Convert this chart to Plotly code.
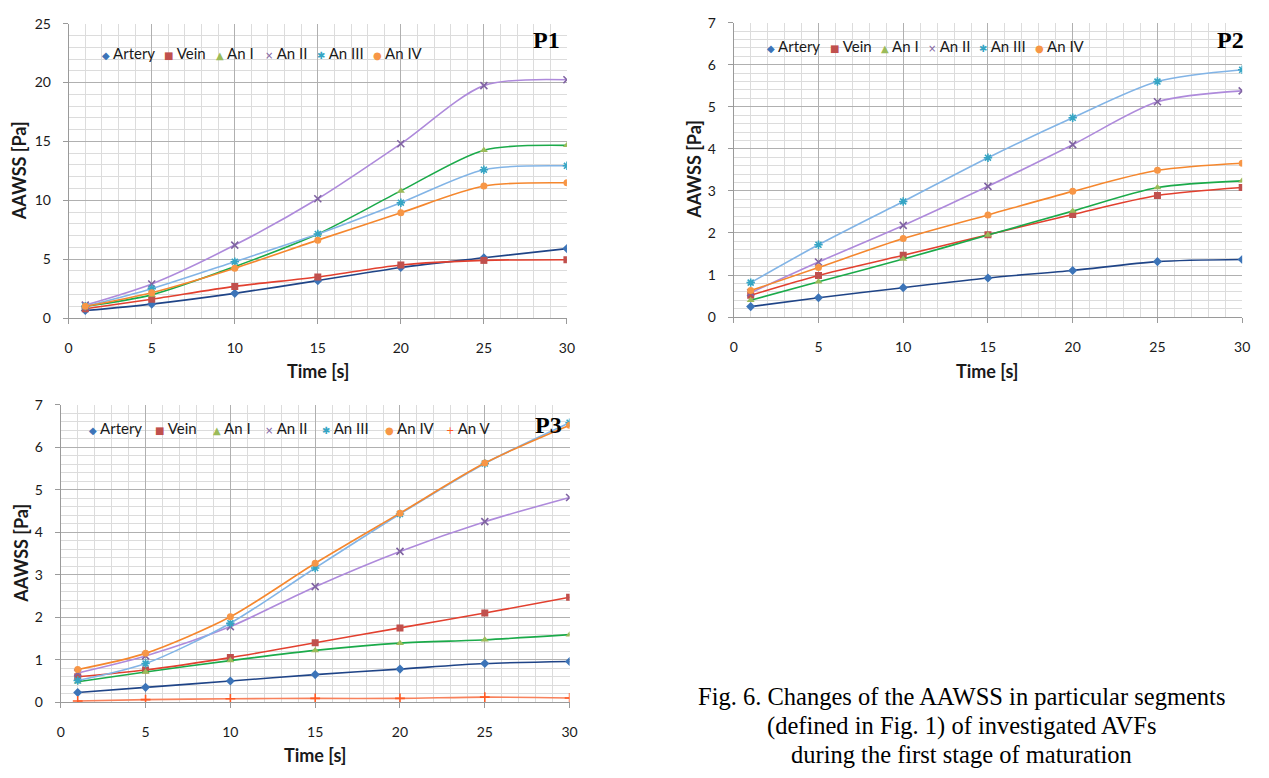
import plotly.graph_objects as go

# ---------------- data ----------------
time_s = [1, 5, 10, 15, 20, 25, 30]

series_p12 = ["Artery", "Vein", "An I", "An II", "An III", "An IV"]
series_p3 = ["Artery", "Vein", "An I", "An II", "An III", "An IV", "An V"]

# P1  (AAWSS [Pa])
p1_artery = [0.64, 1.19, 2.10, 3.18, 4.30, 5.12, 5.90]
p1_vein = [0.80, 1.60, 2.69, 3.49, 4.51, 4.90, 4.96]
p1_an1 = [1.00, 1.97, 4.37, 7.14, 10.80, 14.26, 14.67]
p1_an2 = [1.10, 2.90, 6.20, 10.13, 14.80, 19.74, 20.24]
p1_an3 = [1.00, 2.50, 4.79, 7.14, 9.80, 12.60, 12.93]
p1_an4 = [1.00, 2.16, 4.24, 6.62, 8.94, 11.21, 11.49]

# P2
p2_artery = [0.25, 0.46, 0.70, 0.93, 1.11, 1.32, 1.37]
p2_vein = [0.52, 0.99, 1.47, 1.96, 2.44, 2.89, 3.08]
p2_an1 = [0.40, 0.84, 1.38, 1.95, 2.52, 3.08, 3.24]
p2_an2 = [0.58, 1.31, 2.18, 3.11, 4.10, 5.12, 5.38]
p2_an3 = [0.82, 1.72, 2.75, 3.79, 4.74, 5.60, 5.88]
p2_an4 = [0.63, 1.18, 1.87, 2.43, 2.99, 3.49, 3.66]

# P3
p3_artery = [0.23, 0.35, 0.50, 0.65, 0.78, 0.91, 0.96]
p3_vein = [0.60, 0.76, 1.05, 1.40, 1.75, 2.10, 2.47]
p3_an1 = [0.48, 0.71, 0.98, 1.22, 1.39, 1.47, 1.59]
p3_an2 = [0.69, 1.09, 1.78, 2.72, 3.55, 4.25, 4.82]
p3_an3 = [0.51, 0.91, 1.86, 3.16, 4.43, 5.62, 6.58]
p3_an4 = [0.77, 1.15, 2.01, 3.27, 4.45, 5.63, 6.52]
p3_an5 = [0.03, 0.06, 0.08, 0.09, 0.09, 0.12, 0.10]

x_ticks = [0, 5, 10, 15, 20, 25, 30]
caption_lines = ["Fig. 6. Changes of the AAWSS in particular segments",
                 "(defined in Fig. 1) of investigated AVFs",
                 "during the first stage of maturation"]

# ---------------- styles ----------------
W, H = 1269, 778
STYLE = {
    "Artery": dict(sym="diamond", mc="#3C74B8", lc="#1F4487", ch="\u25C6", open=False),
    "Vein": dict(sym="square", mc="#C0504D", lc="#E2402F", ch="\u25A0", open=False),
    "An I": dict(sym="triangle-up", mc="#9BBB59", lc="#1BAA4A", ch="\u25B2", open=False),
    "An II": dict(sym="x-thin-open", mc="#8064A2", lc="#AE8ADB", ch="\u00D7", open=True),
    "An III": dict(sym="asterisk-open", mc="#36A5C4", lc="#82B4E6", ch="\u2731", open=True),
    "An IV": dict(sym="circle", mc="#F79646", lc="#F5872E", ch="\u25CF", open=False),
    "An V": dict(sym="cross-thin-open", mc="#FF5A24", lc="#F8825C", ch="+", open=True),
}

MAJ = "#B0B0B0"
MINC = "#DCDCDC"
AXC = "#9A9A9A"
TICKFONT = dict(family="Lato", size=14, color="#1A1A1A")


def px_x(v):
    return v / W


def px_y(v):
    return 1 - v / H


panels = [
    dict(tag="P1", xa="x", ya="y", names=series_p12,
         vals=[p1_artery, p1_vein, p1_an1, p1_an2, p1_an3, p1_an4],
         box=(65.3, 568.3, 15, 316), yr=[0, 25], ydt=5, ymin=1,
         ytitle=(16, 165), xtitle=(317, 370), label=(548, 32),
         leg_y=45, leg_box=(93, 425, 34, 56),
         leg_x=[100.7, 164, 215.7, 265.7, 317.7, 374.7]),
    dict(tag="P2", xa="x2", ya="y2", names=series_p12,
         vals=[p2_artery, p2_vein, p2_an1, p2_an2, p2_an3, p2_an4],
         box=(736.7, 1250, 14, 315), yr=[0, 7], ydt=1, ymin=0.2,
         ytitle=(697, 164), xtitle=(993, 370), label=(1238, 32),
         leg_y=38, leg_box=(759, 1092, 27, 49),
         leg_x=[772, 836, 887, 935, 986.5, 1043]),
    dict(tag="P3", xa="x3", ya="y3", names=series_p3,
         vals=[p3_artery, p3_vein, p3_an1, p3_an2, p3_an3, p3_an4, p3_an5],
         box=(57.3, 571, 404.7, 708.7), yr=[0, 7], ydt=1, ymin=0.2,
         ytitle=(17, 556), xtitle=(314, 763), label=(550, 425),
         leg_y=428, leg_box=(69, 504, 415, 442),
         leg_x=[87.7, 154, 213, 265.7, 323, 387, 447.7]),
]

fig = go.Figure()
annotations = []
shapes = []
layout_axes = {}

for i, p in enumerate(panels):
    for name, vals in zip(p["names"], p["vals"]):
        st = STYLE[name]
        marker = dict(symbol=st["sym"], size=7, color=st["mc"],
                      line=dict(color=st["mc"], width=1.6 if st["open"] else 0))
        fig.add_trace(go.Scatter(
            x=time_s, y=vals, name=name, mode="lines+markers",
            line=dict(color=st["lc"], width=1.6, shape="spline", smoothing=0.8),
            marker=marker, xaxis=p["xa"], yaxis=p["ya"], showlegend=False))

    x0, x1, y0, y1 = p["box"]
    sfx = "" if i == 0 else str(i + 1)
    common = dict(showgrid=True, gridcolor=MAJ, gridwidth=1,
                  ticks="outside", ticklen=5, tickwidth=1, tickcolor=AXC,
                  showline=True, linecolor=AXC, linewidth=1, zeroline=False,
                  tickfont=TICKFONT, fixedrange=True)
    layout_axes["xaxis" + sfx] = dict(
        domain=[px_x(x0), px_x(x1)], anchor="y" + sfx, range=[0, 30],
        tickvals=x_ticks, ticklabelstandoff=12,
        minor=dict(dtick=1, tick0=0, showgrid=True, gridcolor=MINC, gridwidth=1),
        **common)
    layout_axes["yaxis" + sfx] = dict(
        domain=[px_y(y1), px_y(y0)], anchor="x" + sfx, range=p["yr"],
        dtick=p["ydt"], tick0=0, ticklabelstandoff=9,
        minor=dict(dtick=p["ymin"], tick0=0, showgrid=True, gridcolor=MINC, gridwidth=1),
        **common)

    annotations.append(dict(text="AAWSS [Pa]", x=px_x(p["ytitle"][0]), y=px_y(p["ytitle"][1]),
                            xref="paper", yref="paper", showarrow=False, textangle=-90,
                            xanchor="center", yanchor="middle",
                            font=dict(family="Lato", size=18, color="#1A1A1A", weight="bold")))
    annotations.append(dict(text="Time [s]", x=px_x(p["xtitle"][0]), y=px_y(p["xtitle"][1]),
                            xref="paper", yref="paper", showarrow=False,
                            xanchor="center", yanchor="middle",
                            font=dict(family="Lato", size=18, color="#1A1A1A", weight="bold")))
    annotations.append(dict(text="<b>%s</b>" % p["tag"], x=px_x(p["label"][0]), y=px_y(p["label"][1]),
                            xref="paper", yref="paper", showarrow=False,
                            xanchor="center", yanchor="middle",
                            font=dict(family="Liberation Serif", size=24, color="#000000")))
    bx0, bx1, by0, by1 = p["leg_box"]
    shapes.append(dict(type="rect", xref="paper", yref="paper",
                       x0=px_x(bx0), x1=px_x(bx1), y0=px_y(by1), y1=px_y(by0),
                       fillcolor="white", line=dict(width=0), layer="between"))
    for name, lx in zip(p["names"], p["leg_x"]):
        st = STYLE[name]
        txt = ('<span style="color:%s;font-family:DejaVu Sans;font-size:10px">%s</span> %s'
               % (st["mc"], st["ch"], name))
        annotations.append(dict(text=txt, x=px_x(lx - 4), y=px_y(p["leg_y"]),
                                xref="paper", yref="paper", showarrow=False,
                                xanchor="left", yanchor="middle",
                                font=dict(family="Lato", size=15, color="#1A1A1A")))

for line, cy in zip(caption_lines, [703, 733, 762]):
    annotations.append(dict(text=line, x=px_x(967), y=px_y(cy),
                            xref="paper", yref="paper", showarrow=False,
                            xanchor="center", yanchor="middle", align="center",
                            font=dict(family="Liberation Serif", size=24.5, color="#000000")))

fig.update_layout(
    width=W, height=H, autosize=False,
    margin=dict(l=0, r=0, t=0, b=0),
    paper_bgcolor="white", plot_bgcolor="white",
    annotations=annotations, shapes=shapes,
    **layout_axes)

fig.write_html("out.html", config={"displayModeBar": False})
